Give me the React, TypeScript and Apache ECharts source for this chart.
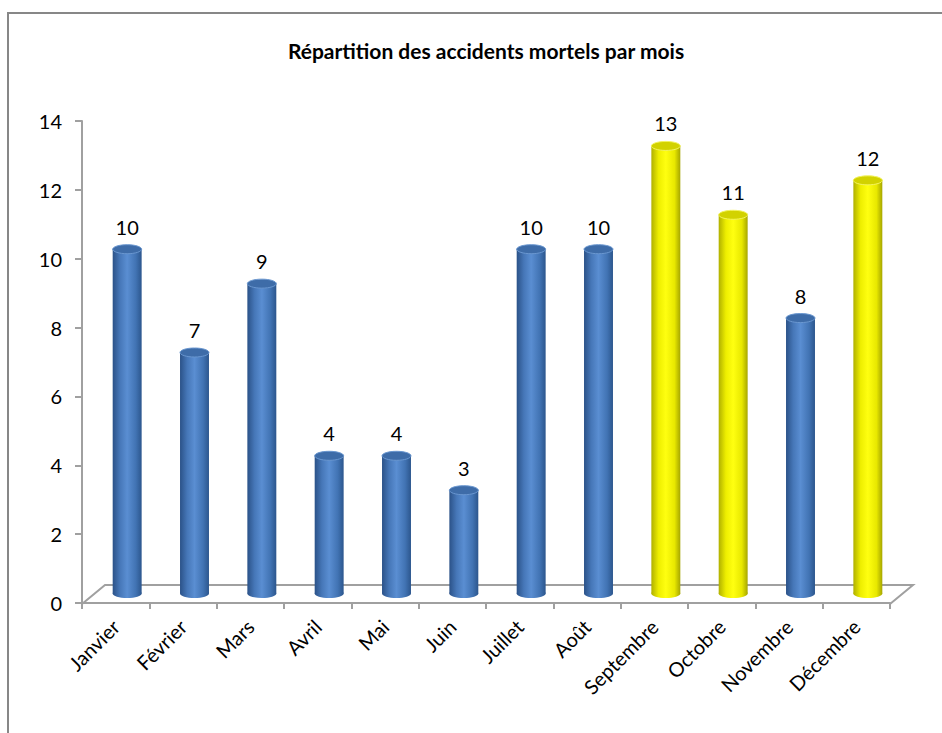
import React, { useEffect, useRef } from "react";
import * as echarts from "echarts";

const categories = [
  "Janvier", "Février", "Mars", "Avril", "Mai", "Juin",
  "Juillet", "Août", "Septembre", "Octobre", "Novembre", "Décembre",
];
const values = [10, 7, 9, 4, 4, 3, 10, 10, 13, 11, 8, 12];
const highlighted = [false, false, false, false, false, false, false, false, true, true, false, true];
const yTicks = { min: 0, max: 14, interval: 2 };
const title = "Répartition des accidents mortels par mois";

const FONT = "Lato, 'Open Sans', sans-serif";

const blueSide = [
  { offset: 0, color: "#2b5288" },
  { offset: 0.25, color: "#4677b8" },
  { offset: 0.5, color: "#5a8ed2" },
  { offset: 0.8, color: "#4173b3" },
  { offset: 1, color: "#2c568d" },
];
const yellowSide = [
  { offset: 0, color: "#b0b000" },
  { offset: 0.25, color: "#eeee00" },
  { offset: 0.5, color: "#ffff10" },
  { offset: 0.8, color: "#e8e800" },
  { offset: 1, color: "#a6a600" },
];

export default function App() {
  const ref = useRef<HTMLDivElement>(null);
  useEffect(() => {
    if (!ref.current) return;
    const chart = echarts.init(ref.current, null, { renderer: "svg" });
    const dx = 11.5;
    const dy = -9.5;
    const option: any = {
      animation: false,
      backgroundColor: "#ffffff",
      title: {
        text: title,
        left: 481,
        top: 35,
        textAlign: "center",
        textStyle: { fontFamily: FONT, fontSize: 21, fontWeight: "bold", color: "#000" },
      },
      grid: { left: 82, right: 52, top: 121, bottom: 130 },
      xAxis: {
        type: "category",
        data: categories,
        boundaryGap: true,
        axisLine: { lineStyle: { color: "#a0a0a0", width: 2 } },
        axisTick: { show: true, length: 6, lineStyle: { color: "#a0a0a0", width: 2 } },
        axisLabel: {
          rotate: 45,
          margin: 20,
          interval: 0,
          fontFamily: FONT,
          fontSize: 20,
          color: "#000",
        },
      },
      yAxis: {
        type: "value",
        min: yTicks.min,
        max: yTicks.max,
        interval: yTicks.interval,
        splitLine: { show: false },
        axisLine: { show: true, lineStyle: { color: "#a0a0a0", width: 2 } },
        axisTick: { show: true, length: 7, lineStyle: { color: "#a0a0a0", width: 2 } },
        axisLabel: { margin: 20, fontFamily: FONT, fontSize: 20, color: "#000" },
      },
      graphic: [
        {
          type: "rect",
          shape: { x: 8, y: 13, width: 1000, height: 1000 },
          style: { fill: "none", stroke: "#878787", lineWidth: 2 },
          silent: true,
        },
        {
          type: "polyline",
          shape: { points: [[82, 604], [105, 585], [913, 585], [890, 604]] },
          style: { fill: "none", stroke: "#a0a0a0", lineWidth: 2 },
          silent: true,
          z: 0,
        },
      ],
      series: [
        {
          type: "custom",
          data: values.map((v, i) => [i, v]),
          clip: false,
          z: 5,
          renderItem: (params: any, api: any) => {
            const i = api.value(0);
            const v = api.value(1);
            const top = api.coord([i, v]);
            const base = api.coord([i, 0]);
            const cx = top[0] + dx;
            const ty = top[1] + dy;
            const by = base[1] + dy;
            const w = api.size([1, 0])[0] * 0.43;
            const rx = w / 2;
            const ry = 4.5;
            const hl = highlighted[i];
            const side = new echarts.graphic.LinearGradient(0, 0, 1, 0, hl ? yellowSide : blueSide);
            const side2 = new echarts.graphic.LinearGradient(0, 0, 1, 0, hl ? yellowSide : blueSide);
            return {
              type: "group",
              children: [
                {
                  type: "ellipse",
                  shape: { cx, cy: by, rx, ry },
                  style: { fill: side },
                },
                {
                  type: "rect",
                  shape: { x: cx - rx, y: ty, width: w, height: by - ty },
                  style: { fill: side2 },
                },
                {
                  type: "ellipse",
                  shape: { cx, cy: ty, rx, ry },
                  style: {
                    fill: hl ? "#d2d200" : "#3e6ca8",
                    stroke: hl ? "#f4f460" : "#6a97d0",
                    lineWidth: 1,
                  },
                },
                {
                  type: "text",
                  style: {
                    text: String(v),
                    x: cx,
                    y: ty - ry - 8,
                    align: "center",
                    verticalAlign: "bottom",
                    fontFamily: FONT,
                    fontSize: 20,
                    fill: "#000",
                  },
                },
              ],
            };
          },
        },
      ],
    };
    chart.setOption(option);
    return () => chart.dispose();
  }, []);
  return (
    <div
      ref={ref}
      style={{ position: "fixed", left: 0, top: 0, width: 942, height: 733 }}
    />
  );
}
